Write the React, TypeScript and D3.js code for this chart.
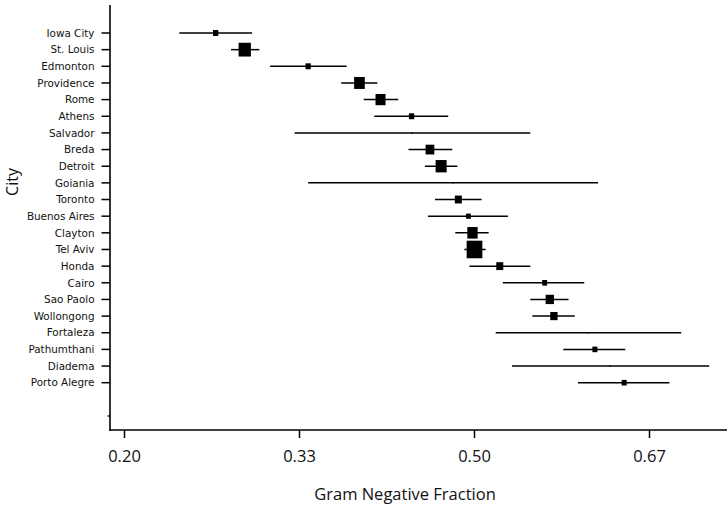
import React from "react";
import * as d3 from "d3";

const cities = [
  "Iowa City", "St. Louis", "Edmonton", "Providence", "Rome", "Athens", "Salvador",
  "Breda", "Detroit", "Goiania", "Toronto", "Buenos Aires", "Clayton", "Tel Aviv",
  "Honda", "Cairo", "Sao Paolo", "Wollongong", "Fortaleza", "Pathumthani", "Diadema",
  "Porto Alegre",
];
const estimate = [
  0.264, 0.287, 0.341, 0.388, 0.408, 0.438, 0.438, 0.456, 0.467, 0.479, 0.484, 0.494,
  0.498, 0.500, 0.525, 0.569, 0.574, 0.578, 0.611, 0.617, 0.631, 0.644,
];
const lower = [
  0.237, 0.276, 0.308, 0.371, 0.392, 0.402, 0.329, 0.435, 0.451, 0.341, 0.461, 0.454,
  0.481, 0.490, 0.495, 0.528, 0.555, 0.557, 0.521, 0.587, 0.537, 0.601,
];
const upper = [
  0.293, 0.299, 0.376, 0.405, 0.425, 0.474, 0.555, 0.478, 0.483, 0.620, 0.507, 0.533,
  0.514, 0.511, 0.555, 0.607, 0.592, 0.598, 0.694, 0.645, 0.717, 0.684,
];
const weight = [
  28, 151, 28, 114, 100, 28, 1.5, 76, 121, 0.5, 49, 22, 106, 246, 49, 25, 69, 53, 1.5,
  25, 1, 25,
];
const xTicks = [0.2, 1 / 3, 0.5, 2 / 3];
const xLabel = "Gram Negative Fraction";
const yLabel = "City";

const logit = (p: number) => Math.log(p / (1 - p));

export default function App() {
  const W = 727, H = 507;
  const axisX = 110, axisY = 430, topY = 5;
  const x = d3.scaleLinear().domain([logit(0.2), logit(2 / 3)]).range([124.5, 649.5]);
  const y = d3.scaleLinear().domain([0, 23]).range([33, 416]);
  const size = d3.scaleSqrt().domain([0, 246]).range([0, 15.7]);
  const fmt = d3.format(".2f");
  const black = "#000";

  return (
    <svg width={W} height={H} style={{ position: "absolute", left: 0, top: 0, background: "#fff" }}>
      {/* axes */}
      <line x1={axisX} x2={axisX} y1={topY} y2={axisY + 1} stroke={black} strokeWidth={1.6} />
      <line x1={axisX - 0.8} x2={W} y1={axisY} y2={axisY} stroke={black} strokeWidth={1.6} />
      {/* y ticks */}
      {cities.map((c, i) => (
        <g key={c}>
          <line x1={axisX - 8.5} x2={axisX} y1={y(i)} y2={y(i)} stroke={black} strokeWidth={1.5} />
          <text
            x={94.5}
            y={y(i)}
            dy="0.36em"
            textAnchor="end"
            fontFamily="DejaVu Sans"
            fontSize={10.4}
            fill="#111"
          >
            {c}
          </text>
        </g>
      ))}
      <line x1={axisX - 2.5} x2={axisX} y1={y(23)} y2={y(23)} stroke={black} strokeWidth={1.3} />
      {/* x ticks */}
      {xTicks.map((t) => (
        <g key={t}>
          <line x1={x(logit(t))} x2={x(logit(t))} y1={axisY} y2={axisY + 8} stroke={black} strokeWidth={1.5} />
          <text
            x={x(logit(t))}
            y={462}
            textAnchor="middle"
            fontFamily="Open Sans"
            fontSize={16.5}
            fill="#111"
          >
            {fmt(t)}
          </text>
        </g>
      ))}
      <text x={405} y={500} textAnchor="middle" fontFamily="Open Sans" fontSize={16.5} fill="#111">
        {xLabel}
      </text>
      <text
        transform={`translate(17.5,182) rotate(-90)`}
        textAnchor="middle"
        fontFamily="Open Sans"
        fontSize={16}
        fill="#111"
      >
        {yLabel}
      </text>
      {/* forest plot */}
      {cities.map((c, i) => {
        const s = Math.max(size(weight[i]), 1.2);
        const h = s * 1.12;
        const cx = x(logit(estimate[i]));
        return (
          <g key={"m" + c}>
            <line
              x1={x(logit(lower[i]))}
              x2={x(logit(upper[i]))}
              y1={y(i)}
              y2={y(i)}
              stroke={black}
              strokeWidth={1.5}
            />
            <rect x={cx - s / 2} y={y(i) - h / 2} width={s} height={h} fill={black} />
          </g>
        );
      })}
    </svg>
  );
}
